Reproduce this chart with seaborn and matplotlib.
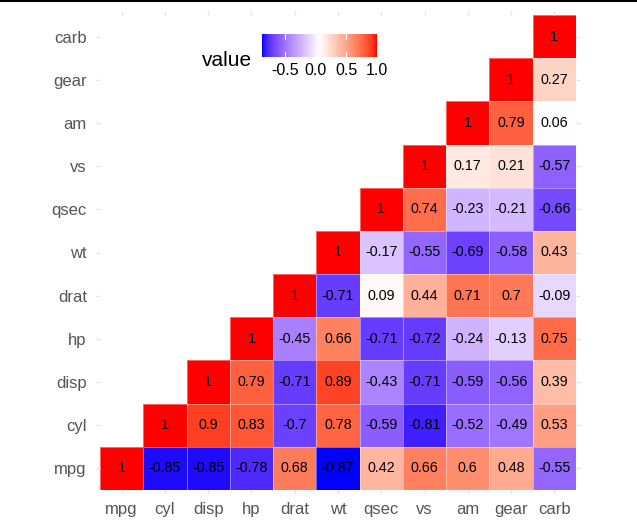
import numpy as np
import pandas as pd
import matplotlib
matplotlib.use("Agg")
import matplotlib.pyplot as plt
from matplotlib.colors import ListedColormap, Normalize
from matplotlib.lines import Line2D
import seaborn as sns

# mtcars correlation values (upper triangle incl. diagonal)
variables = ["mpg", "cyl", "disp", "hp", "drat", "wt", "qsec", "vs", "am", "gear", "carb"]
mpg_row = [1, -0.85, -0.85, -0.78, 0.68, -0.87, 0.42, 0.66, 0.6, 0.48, -0.55]
cyl_row = [1, 0.9, 0.83, -0.7, 0.78, -0.59, -0.81, -0.52, -0.49, 0.53]
disp_row = [1, 0.79, -0.71, 0.89, -0.43, -0.71, -0.59, -0.56, 0.39]
hp_row = [1, -0.45, 0.66, -0.71, -0.72, -0.24, -0.13, 0.75]
drat_row = [1, -0.71, 0.09, 0.44, 0.71, 0.7, -0.09]
wt_row = [1, -0.17, -0.55, -0.69, -0.58, 0.43]
qsec_row = [1, 0.74, -0.23, -0.21, -0.66]
vs_row = [1, 0.17, 0.21, -0.57]
am_row = [1, 0.79, 0.06]
gear_row = [1, 0.27]
carb_row = [1]
rows = [mpg_row, cyl_row, disp_row, hp_row, drat_row, wt_row,
        qsec_row, vs_row, am_row, gear_row, carb_row]
cbar_ticks = [-0.5, 0.0, 0.5, 1.0]

n = len(variables)
mat = np.full((n, n), np.nan)
for i, r in enumerate(rows):
    mat[i, i:] = r
corr = pd.DataFrame(mat, index=variables, columns=variables)
corr = corr.iloc[::-1]  # mpg at the bottom
mask = corr.isna()
labels = corr.map(lambda v: "" if np.isnan(v) else f"{v:g}")
vmin, vmax = np.nanmin(mat), np.nanmax(mat)


# blue - white - red over the data range, interpolated in CIELAB (like ggplot)
def srgb_to_lab(rgb):
    rgb = np.asarray(rgb, float)
    lin = np.where(rgb <= 0.04045, rgb / 12.92, ((rgb + 0.055) / 1.055) ** 2.4)
    M = np.array([[0.4124, 0.3576, 0.1805],
                  [0.2126, 0.7152, 0.0722],
                  [0.0193, 0.1192, 0.9505]])
    xyz = M @ lin / np.array([0.95047, 1.0, 1.08883])
    f = np.where(xyz > 0.008856, np.cbrt(xyz), 7.787 * xyz + 16 / 116)
    return np.array([116 * f[1] - 16, 500 * (f[0] - f[1]), 200 * (f[1] - f[2])])


def lab_to_srgb(lab):
    L, a, b = lab
    fy = (L + 16) / 116
    f = np.array([fy + a / 500, fy, fy - b / 200])
    xyz = np.where(f ** 3 > 0.008856, f ** 3, (f - 16 / 116) / 7.787)
    xyz = xyz * np.array([0.95047, 1.0, 1.08883])
    Minv = np.array([[3.2406, -1.5372, -0.4986],
                     [-0.9689, 1.8758, 0.0415],
                     [0.0557, -0.2040, 1.0570]])
    lin = np.clip(Minv @ xyz, 0, None)
    rgb = np.where(lin <= 0.0031308, 12.92 * lin, 1.055 * lin ** (1 / 2.4) - 0.055)
    return np.clip(rgb, 0, 1)


blue, white, red = srgb_to_lab([0, 0, 1]), srgb_to_lab([1, 1, 1]), srgb_to_lab([1, 0, 0])
cols = []
for t in np.linspace(0, 1, 256):
    if t < 0.5:
        lab = blue + (white - blue) * (t / 0.5)
    else:
        lab = white + (red - white) * ((t - 0.5) / 0.5)
    cols.append(lab_to_srgb(lab))
cmap = ListedColormap(cols)

plt.rcParams["font.family"] = ["Liberation Sans", "DejaVu Sans"]

fig = plt.figure(figsize=(6.37, 5.30), dpi=100)
ax = fig.add_axes([100 / 637, 1 - 490 / 530, 476 / 637, 475 / 530])

sns.heatmap(corr, mask=mask, cmap=cmap, vmin=vmin, vmax=vmax, annot=labels, fmt="",
            annot_kws={"fontsize": 10.3, "color": "black"},
            linewidths=0.6, linecolor=(1, 1, 1, 0.4), cbar=False, ax=ax)

ax.set_xlabel("")
ax.set_ylabel("")
ax.tick_params(axis="both", which="both", top=True, right=True,
               labeltop=False, labelright=False, length=3, width=1,
               color="#E3E3E3", labelcolor="#555555", labelsize=12)
ax.tick_params(axis="y", pad=6.5)
ax.tick_params(axis="x", pad=5.5)
ax.set_xticklabels(ax.get_xticklabels(), rotation=0)
ax.set_yticklabels(ax.get_yticklabels(), rotation=0, va="center_baseline")
for s in ax.spines.values():
    s.set_visible(False)

# horizontal colourbar legend
cax = fig.add_axes([262 / 637, 1 - 57 / 530, 115 / 637, 23 / 530])
grad = np.linspace(vmin, vmax, 300)[None, :]
cax.imshow(grad, aspect="auto", cmap=cmap, norm=Normalize(vmin, vmax),
           extent=[vmin, vmax, 0, 1])
cax.set_xlim(vmin, vmax)
cax.set_ylim(0, 1)
for t in cbar_ticks[:-1]:
    cax.plot([t, t], [0, 0.2], color="white", lw=0.8)
    cax.plot([t, t], [0.8, 1], color="white", lw=0.8)
cax.set_xticks(cbar_ticks)
cax.set_xticklabels([f"{t:.1f}" for t in cbar_ticks])
cax.set_yticks([])
cax.tick_params(axis="x", length=0, labelsize=11.5, labelcolor="black", pad=4.5)
for s in cax.spines.values():
    s.set_visible(False)
fig.text(252 / 637, 1 - 61 / 530, "value", ha="right", va="center", fontsize=15)

fig.add_artist(Line2D([0, 1], [0.999, 0.999], color="black", lw=1.5))

fig.savefig("out.png", dpi=100)
